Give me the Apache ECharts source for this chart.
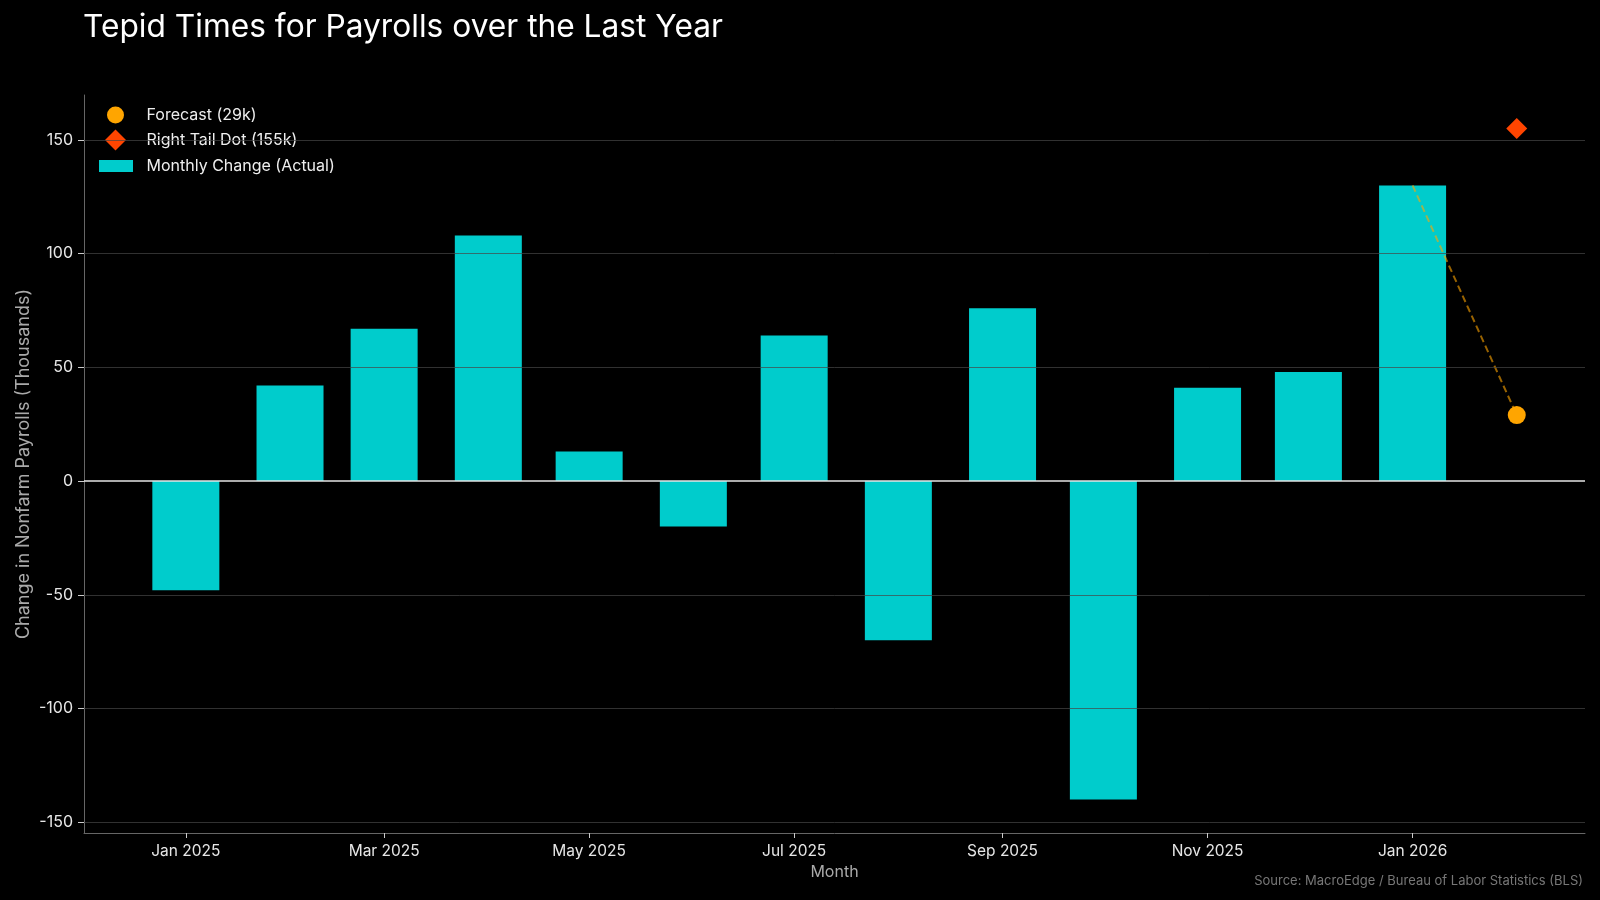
<!DOCTYPE html>
<html>
<head>
<meta charset="utf-8">
<title>Tepid Times for Payrolls over the Last Year</title>
<script src="https://cdn.jsdelivr.net/npm/echarts@6/dist/echarts.min.js"></script>
<style>
  html, body { margin: 0; padding: 0; background: #000; }
  #chart { width: 1600px; height: 900px; }
</style>
</head>
<body>
<div id="chart"></div>
<script>
// monthly change in nonfarm payrolls (thousands)
var months = ['2025-01-01', '2025-02-01', '2025-03-01', '2025-04-01', '2025-05-01', '2025-06-01',
  '2025-07-01', '2025-08-01', '2025-09-01', '2025-10-01', '2025-11-01', '2025-12-01', '2026-01-01'];
var actual = [-48, 42, 67, 108, 13, -20, 64, -70, 76, -140, 41, 48, 130];

var forecastMonth = '2026-02-01';
var forecastValue = 29;
var rightTailValue = 155;

var xTickDates = ['2025-01-01', '2025-03-01', '2025-05-01', '2025-07-01', '2025-09-01', '2025-11-01', '2026-01-01'];
var xTickLabels = ['Jan 2025', 'Mar 2025', 'May 2025', 'Jul 2025', 'Sep 2025', 'Nov 2025', 'Jan 2026'];
var yTicks = [-150, -100, -50, 0, 50, 100, 150];

// dates are plotted as day numbers on a value axis
function day(s) { return Date.parse(s + 'T00:00:00Z') / 86400000; }

// axis limits with 5% margins around the data, bars are 20 days wide
var xLo = day(months[0]) - 10, xHi = day(forecastMonth);
var xPad = (xHi - xLo) * 0.05;
var allY = actual.concat([forecastValue, rightTailValue]);
var yLo = Math.min.apply(null, allY);
var yHi = Math.max.apply(null, allY);
var yPad = (yHi - yLo) * 0.05;

var tickDays = xTickDates.map(day);
var labelByDay = {};
tickDays.forEach(function (d, i) { labelByDay[d] = xTickLabels[i]; });

var font = 'Inter, "Noto Sans", sans-serif';

var myChart = echarts.init(document.getElementById('chart'));

var gridLines = yTicks.map(function (v) {
  if (v === 0) return { yAxis: 0, lineStyle: { color: '#e6e6e6', width: 1.5, type: 'solid' } };
  return { yAxis: v };
});

var legendText = { color: '#eeeeee', fontSize: 16, fontFamily: font };

option = {
  backgroundColor: '#000000',
  animation: false,
  textStyle: { fontFamily: font },
  title: {
    text: 'Tepid Times for Payrolls over the Last Year',
    left: 78,
    top: 6,
    textStyle: { color: '#ffffff', fontSize: 31.7, fontWeight: 'normal', fontFamily: font }
  },
  legend: [
    {
      data: [{ name: 'Forecast (29k)', icon: 'circle' }],
      left: 107, top: 106.5, padding: 0, itemWidth: 17, itemHeight: 17,
      textStyle: Object.assign({ padding: [0, 0, 0, 17.5] }, legendText)
    },
    {
      data: [{ name: 'Right Tail Dot (155k)', icon: 'path://M1,0L2,1L1,2L0,1Z' }],
      left: 105, top: 129.5, padding: 0, itemWidth: 21, itemHeight: 21,
      textStyle: Object.assign({ padding: [0, 0, 0, 15.5] }, legendText)
    },
    {
      data: [{ name: 'Monthly Change (Actual)', icon: 'rect' }],
      left: 99, top: 158, padding: 0, itemWidth: 34, itemHeight: 12,
      textStyle: Object.assign({ padding: [0, 0, 0, 8.5] }, legendText)
    }
  ],
  grid: { left: 84, right: 15, top: 95, bottom: 67 },
  xAxis: {
    type: 'value',
    min: xLo - xPad,
    max: xHi + xPad,
    scale: true,
    name: 'Month',
    nameLocation: 'middle',
    nameGap: 30,
    nameTextStyle: { color: '#aaaaaa', fontSize: 16, fontFamily: font },
    axisLine: { show: true, onZero: false, lineStyle: { color: '#666666', width: 1 } },
    axisTick: { show: true, length: 5, customValues: tickDays, lineStyle: { color: '#cccccc' } },
    axisLabel: {
      customValues: tickDays,
      color: '#e6e6e6',
      fontSize: 15.5,
      margin: 10,
      showMinLabel: true,
      showMaxLabel: true,
      formatter: function (v) { return labelByDay[v] || ''; }
    },
    splitLine: { show: false }
  },
  yAxis: {
    type: 'value',
    min: yLo - yPad,
    max: yHi + yPad,
    name: 'Change in Nonfarm Payrolls (Thousands)',
    nameLocation: 'middle',
    nameGap: 51,
    nameMoveOverlap: false,
    nameTextStyle: { color: '#aaaaaa', fontSize: 18, fontFamily: font },
    axisLine: { show: true, lineStyle: { color: '#666666', width: 1 } },
    axisTick: { show: true, length: 6, customValues: yTicks, lineStyle: { color: '#cccccc' } },
    axisLabel: { customValues: yTicks, color: '#e6e6e6', fontSize: 16, margin: 11 },
    splitLine: { show: false }
  },
  series: [
    {
      name: 'Monthly Change (Actual)',
      type: 'bar',
      barWidth: 67,
      itemStyle: { color: '#00CCCC' },
      data: months.map(function (m, i) { return [day(m), actual[i]]; }),
      markLine: {
        silent: true,
        symbol: ['none', 'none'],
        label: { show: false },
        lineStyle: { color: 'rgba(70,70,70,0.7)', width: 1, type: 'solid' },
        data: gridLines
      }
    },
    {
      name: 'connector',
      type: 'line',
      z: 4,
      symbol: 'none',
      lineStyle: { color: '#FFA500', opacity: 0.6, width: 2, type: [7, 4] },
      data: [[day(months[months.length - 1]), actual[actual.length - 1]], [day(forecastMonth), forecastValue]]
    },
    {
      name: 'Forecast (29k)',
      type: 'scatter',
      z: 5,
      symbol: 'circle',
      symbolSize: 18,
      itemStyle: { color: '#FFA500', opacity: 1 },
      data: [[day(forecastMonth), forecastValue]]
    },
    {
      name: 'Right Tail Dot (155k)',
      type: 'scatter',
      z: 5,
      symbol: 'diamond',
      symbolSize: 21,
      itemStyle: { color: '#FF4500', opacity: 1 },
      data: [[day(forecastMonth), rightTailValue]]
    }
  ],
  graphic: [
    {
      type: 'text',
      right: 17,
      top: 875,
      style: { text: 'Source: MacroEdge / Bureau of Labor Statistics (BLS)', fill: '#777777', fontSize: 13, fontFamily: font }
    }
  ]
};

myChart.setOption(option);
</script>
</body>
</html>
